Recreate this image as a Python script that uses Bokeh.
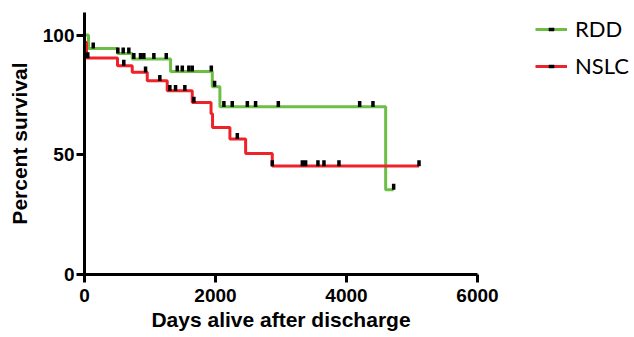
import numpy as np
from bokeh.plotting import figure
from bokeh.models import Legend, LegendItem, Range1d, FixedTicker
from bokeh.embed import file_html
from bokeh.resources import INLINE

# ---- data ----
rdd_times = [0, 61, 504, 729, 1314, 1951, 2067, 4598, 4720]
rdd_surv = [100, 94.4, 92.3, 90.0, 84.8, 78.4, 70.0, 35.4, 35.4]
rdd_censor = [133, 509, 591, 677, 753, 855, 906, 1059, 1248, 1416, 1493, 1593,
              1645, 1936, 1986, 2128, 2256, 2486, 2612, 2959, 4201, 4404, 4720]

nslc_times = [0, 31, 504, 729, 958, 1263, 1645, 1932, 1955, 2220, 2460, 2867, 5107]
nslc_surv = [97.0, 90.4, 87.2, 84.4, 80.9, 76.7, 71.8, 67.1, 61.4, 56.6, 50.5, 45.3, 45.3]
nslc_censor = [50, 600, 932, 1150, 1303, 1390, 1532, 1670, 2333, 2867, 3326, 3376,
               3564, 3656, 3885, 5107]

x_ticks = [0, 2000, 4000, 6000]
y_ticks = [0, 50, 100]

GREEN = "#6CBE45"
RED = "#EE2329"


def level_at(times, surv, t):
    idx = np.searchsorted(np.asarray(times), np.asarray(t), side="right") - 1
    return np.asarray(surv)[idx]


p = figure(frame_width=393, frame_height=262,
           x_range=Range1d(0, 6000), y_range=Range1d(0, 109.4),
           output_backend="svg", toolbar_location=None,
           min_border_left=84, min_border_top=12, min_border_right=157, min_border_bottom=63)
p.grid.visible = False
p.outline_line_color = None
p.background_fill_color = "white"

g_line = p.step(rdd_times, rdd_surv, mode="after", line_width=3, line_color=GREEN)
r_line = p.step(nslc_times, nslc_surv, mode="after", line_width=3, line_color=RED)

mark_off = 1.2
g_marks = p.scatter(rdd_censor, level_at(rdd_times, rdd_surv, rdd_censor) + mark_off,
                    marker="dash", angle=np.pi / 2, size=6, line_width=3.5, line_color="black")
r_marks = p.scatter(nslc_censor, level_at(nslc_times, nslc_surv, nslc_censor) + mark_off,
                    marker="dash", angle=np.pi / 2, size=6, line_width=3.5, line_color="black")

p.xaxis.ticker = FixedTicker(ticks=x_ticks)
p.yaxis.ticker = FixedTicker(ticks=y_ticks)
p.xaxis.axis_label = "Days alive after discharge"
p.yaxis.axis_label = "Percent survival"

for ax in p.axis:
    ax.axis_line_width = 3
    ax.axis_line_color = "black"
    ax.major_tick_line_width = 3
    ax.major_tick_line_color = "black"
    ax.major_tick_out = 8
    ax.major_tick_in = 0
    ax.minor_tick_out = 0
    ax.minor_tick_in = 0
    ax.major_label_text_font = "Liberation Sans"
    ax.major_label_text_font_style = "bold"
    ax.major_label_text_font_size = "19px"
    ax.major_label_text_color = "black"
    ax.axis_label_text_font = "Liberation Sans"
    ax.axis_label_text_font_style = "bold"
    ax.axis_label_text_font_size = "21px"
    ax.axis_label_text_color = "black"

p.xaxis.major_label_standoff = 6
p.xaxis.axis_label_standoff = 3
p.yaxis.major_label_standoff = 2
p.yaxis.axis_label_standoff = 9

legend = Legend(items=[LegendItem(label="RDD", renderers=[g_line, g_marks]),
                       LegendItem(label="NSLC", renderers=[r_line, r_marks])],
                location=(58, 195), orientation="vertical",
                border_line_color=None, background_fill_alpha=0,
                padding=0, margin=0, spacing=10,
                glyph_width=32, glyph_height=14, label_height=20, label_standoff=8,
                label_text_font="Lato", label_text_font_size="22px",
                label_text_color="black")
p.add_layout(legend, "right")

open("out.html", "w").write(file_html(p, INLINE))
